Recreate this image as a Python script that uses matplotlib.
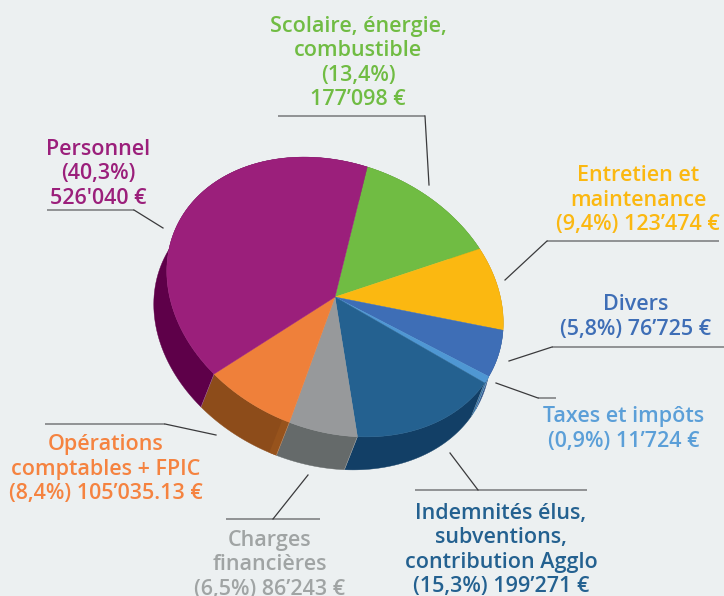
"""
Camembert 3D du budget: ellipse inclinee + extrusion
"""
import numpy as np
import matplotlib
matplotlib.use('Agg')
import matplotlib.pyplot as plt

# donnees
categories = ['Personnel', 'Scolaire', 'Entretien', 'Divers', 'Taxes', 'Indemnites', 'Charges', 'Operations']
percents = [40.3, 13.4, 9.4, 5.8, 0.9, 15.3, 6.5, 8.4]
top_colors = ['#9b1f7b', '#70bc43', '#fbb811', '#3e6eb6', '#4f97d3', '#246190', '#97999b', '#ef803a']
side_colors = ['#5e0049', '#4f8a2c', '#b9860a', '#2b4f86', '#2f6fa3', '#123f66', '#656a6a', '#8d4c1a']

labels = [
    'Personnel\n(40,3%)\n526\'040 €',
    'Scolaire, énergie,\ncombustible\n(13,4%)\n177’098 €',
    'Entretien et\nmaintenance\n(9,4%) 123’474 €',
    'Divers\n(5,8%) 76’725 €',
    'Taxes et impôts\n(0,9%) 11’724 €',
    'Indemnités élus,\nsubventions,\ncontribution Agglo\n(15,3%) 199’271 €',
    'Charges\nfinancières\n(6,5%) 86’243 €',
    'Opérations\ncomptables + FPIC\n(8,4%) 105’035.13 €',
]
text_colors = ['#9b1f7b', '#70bc43', '#fbb811', '#3e6eb6', '#5b9fd8', '#246190', '#a0a4a4', '#f58340']
text_pos = [(98, 174), (358, 63), (638, 200), (636, 317), (624, 429), (501, 550), (270, 565), (106, 469)]

# traits de rappel: (horizontal gris, diagonal fin)
leaders = [
    ([(47, 210), (134, 210)], [(134, 210), (163, 228)]),
    ([(278, 116), (425, 116)], [(425, 116), (429, 185)]),
    ([(547, 241), (719, 241)], [(547, 241), (505, 280)]),
    ([(552, 347), (724, 347)], [(552, 347), (509, 361)]),
    ([(538, 398), (556, 398)], [(538, 398), (496, 383)]),
    ([(415, 490), (587, 490)], [(478, 490), (450, 453)]),
    ([(226, 519), (320, 519)], [(273, 519), (308, 475)]),
    ([(45, 424), (165, 424)], [(165, 424), (216, 435)]),
]

BG = '#ecf0f1'
CX, CY = 335, 297
# ellipse: x = a cos + b sin, y (vers le haut) = c cos + d sin
A, B, C, D = 168.2, 3.1, -28.3, 137.0
DX, DY = -13, 33
START = 80.0  # Personnel se termine vers 80 deg


def ell(deg, off=False):
    t = np.radians(deg)
    x = CX + A * np.cos(t) + B * np.sin(t)
    y = CY - C * np.cos(t) - D * np.sin(t)
    if off:
        return x + DX, y + DY
    return x, y


plt.rcParams['font.family'] = ['Open Sans', 'DejaVu Sans']
fig = plt.figure(figsize=(7.24, 5.96), dpi=100, facecolor=BG)
ax = fig.add_axes([0, 0, 1, 1])
ax.set_xlim(0, 724)
ax.set_ylim(596, 0)
ax.axis('off')

# angles de chaque part (sens horaire)
edges = [START]
for p in percents[1:] + percents[:1]:
    edges.append(edges[-1] - 360 * p / 100)
order = [1, 2, 3, 4, 5, 6, 7, 0]

# 1. flancs
for k, idx in enumerate(order):
    th = np.linspace(edges[k], edges[k + 1], 80)
    x0, y0 = ell(th)
    x1, y1 = ell(th, off=True)
    ax.fill(np.r_[x0, x1[::-1]], np.r_[y0, y1[::-1]], color=side_colors[idx], lw=0.3, zorder=2)

# petite bande plus claire au bout du flanc orange
k_op = order.index(7)
th = np.linspace(edges[k_op], edges[k_op] - 2.5, 20)
x0, y0 = ell(th)
x1, y1 = ell(th, off=True)
ax.fill(np.r_[x0, x1[::-1]], np.r_[y0, y1[::-1]], color='#97531c', lw=0, zorder=2.5)
# aretes entre flancs
for a in edges[:-1]:
    xa, ya = ell(a)
    xb, yb = ell(a, off=True)
    ax.plot([xa, xb], [ya, yb], color='#ffffff', lw=0.3, alpha=0.5, zorder=2.6)

# 2. dessus
for k, idx in enumerate(order):
    th = np.linspace(edges[k], edges[k + 1], 120)
    x0, y0 = ell(th)
    ax.fill(np.r_[CX, x0], np.r_[CY, y0], color=top_colors[idx], ec=top_colors[idx], lw=0.3, zorder=3)

# 3. traits
for hor, dia in leaders:
    ax.plot(*zip(*hor), color='#77797b', lw=1.1, zorder=4, solid_capstyle='butt')
    ax.plot(*zip(*dia), color='#3a3a3c', lw=0.9, zorder=4)

# 4. textes
for lab, col, (tx, ty) in zip(labels, text_colors, text_pos):
    ax.text(tx, ty, lab, color=col, fontsize=15.5, fontweight=600, ha='center', va='center',
            linespacing=1.19, zorder=5, clip_on=True)

plt.savefig('out.png', dpi=100, facecolor=BG)
